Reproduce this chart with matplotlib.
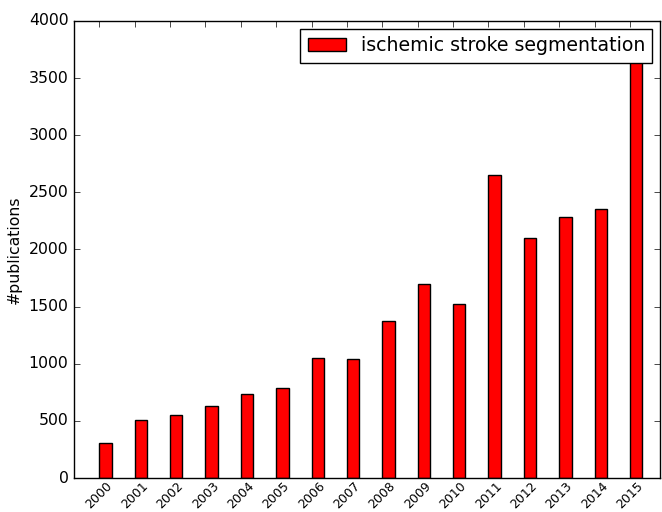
import numpy as np
import matplotlib
matplotlib.use("Agg")
import matplotlib.pyplot as plt

plt.style.use("classic")
plt.rcParams["font.size"] = 11.3

years = ["2000", "2001", "2002", "2003", "2004", "2005", "2006", "2007",
         "2008", "2009", "2010", "2011", "2012", "2013", "2014", "2015"]
counts = [304, 508, 554, 627, 732, 785, 1048, 1039,
          1377, 1698, 1520, 2649, 2098, 2287, 2357, 3700]
label = "ischemic stroke segmentation"

fig = plt.figure(figsize=(6.62, 5.12), dpi=100, facecolor="white")
ax = fig.add_axes([0.1118, 0.0664, 0.8852, 0.8926])

x = np.arange(len(years))
width = 0.35
ax.bar(x, counts, width, align="edge", color="red", edgecolor="black",
       linewidth=1, label=label)

ax.set_xticks(x)
ax.set_xticklabels(years, rotation=45, ha="center", fontsize=9)
ax.tick_params(axis="x", pad=1)
ax.set_xlim(-0.715, 15.85)
ax.set_ylim(0, 4000)
ax.set_ylabel("#publications")
ax.legend(loc="upper right", borderaxespad=0.4)

fig.savefig("out.png", dpi=100, facecolor="white")
